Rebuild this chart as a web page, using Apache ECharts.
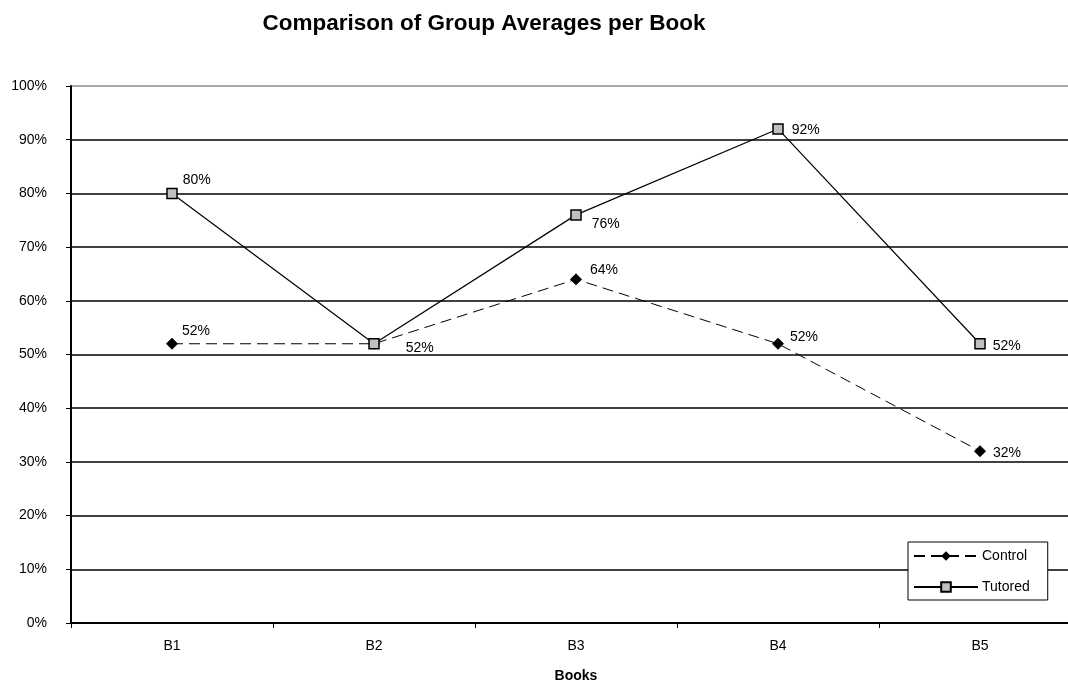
<!DOCTYPE html>
<html>
<head>
<meta charset="utf-8">
<script src="https://cdn.jsdelivr.net/npm/echarts@6/dist/echarts.min.js"></script>
<style>html,body{margin:0;padding:0;background:#fff;}#c{width:1068px;height:681px;}</style>
</head>
<body>
<div id="c"></div>
<script>
var categories = ['B1', 'B2', 'B3', 'B4', 'B5'];
var controlValues = [52, 52, 64, 52, 32];
var tutoredValues = [80, 52, 76, 92, 52];
var controlLabelShown = [true, false, true, true, true];
// label placement: [distance to right of point, vertical shift]
var controlLabelPos = [[4, -13], [4, -13], [8, -9], [6, -7], [7, 2]];
var tutoredLabelPos = [[5, -13], [26, 4], [10, 9], [8, 1], [7, 2]];

var FONT = '"Liberation Sans", Arial, sans-serif';

function buildData(values, pos, shown) {
  return values.map(function (v, i) {
    return {
      value: v,
      label: {
        show: shown ? shown[i] : true,
        position: 'right',
        distance: pos[i][0],
        offset: [0, pos[i][1]]
      }
    };
  });
}

var splitColors = [];
for (var i = 0; i <= 10; i++) splitColors.push(i === 10 ? '#8c8c8c' : '#000');

var chart = echarts.init(document.getElementById('c'), null, {renderer: 'canvas'});
chart.setOption({
  backgroundColor: '#fff',
  animation: false,
  title: {
    text: 'Comparison of Group Averages per Book',
    left: 484,
    textAlign: 'center',
    top: 12,
    padding: 0,
    textStyle: {fontFamily: FONT, fontSize: 22.5, fontWeight: 'bold', color: '#000'}
  },
  legend: {
    orient: 'vertical',
    left: 908,
    top: 542,
    width: 136,
    backgroundColor: '#fff',
    borderColor: '#000',
    borderWidth: 1,
    padding: [7, 18, 6, 5],
    itemWidth: 64,
    itemHeight: 12,
    itemGap: 17,
    textStyle: {fontFamily: FONT, fontSize: 14, color: '#000', padding: [0, 0, 0, -1]},
    data: ['Control', 'Tutored']
  },
  grid: {left: 71, top: 86, width: 1010, height: 537, containLabel: false, outerBoundsMode: 'none'},
  xAxis: {
    type: 'category',
    data: categories,
    boundaryGap: true,
    name: 'Books',
    nameLocation: 'middle',
    nameGap: 46,
    nameTextStyle: {fontFamily: FONT, fontSize: 14, fontWeight: 'bold', color: '#000'},
    axisLine: {lineStyle: {color: '#000', width: 2}},
    axisTick: {show: true, interval: 0, alignWithLabel: false, length: 5, lineStyle: {color: '#000', width: 1}},
    axisLabel: {fontFamily: FONT, fontSize: 14, color: '#000', margin: 16}
  },
  yAxis: {
    type: 'value',
    min: 0,
    max: 100,
    interval: 10,
    axisLine: {show: true, lineStyle: {color: '#000', width: 2}},
    axisTick: {show: true, length: 5, lineStyle: {color: '#000'}},
    axisLabel: {fontFamily: FONT, fontSize: 14, color: '#000', margin: 24, formatter: '{value}%'},
    splitLine: {show: true, lineStyle: {color: splitColors, width: 1.5}}
  },
  series: [
    {
      name: 'Control',
      type: 'line',
      data: buildData(controlValues, controlLabelPos, controlLabelShown),
      symbol: 'diamond',
      symbolSize: 11,
      itemStyle: {color: '#000', borderColor: '#000'},
      lineStyle: {color: '#000', width: 1, type: [11, 6]},
      label: {formatter: '{c}%', fontFamily: FONT, fontSize: 14, color: '#000'},
      z: 3
    },
    {
      name: 'Tutored',
      type: 'line',
      data: buildData(tutoredValues, tutoredLabelPos, null),
      symbol: 'rect',
      symbolSize: 10,
      itemStyle: {color: '#c0c0c0', borderColor: '#000', borderWidth: 1.5},
      lineStyle: {color: '#000', width: 1.2, type: 'solid'},
      label: {formatter: '{c}%', fontFamily: FONT, fontSize: 14, color: '#000'},
      z: 4
    }
  ]
});
</script>
</body>
</html>
